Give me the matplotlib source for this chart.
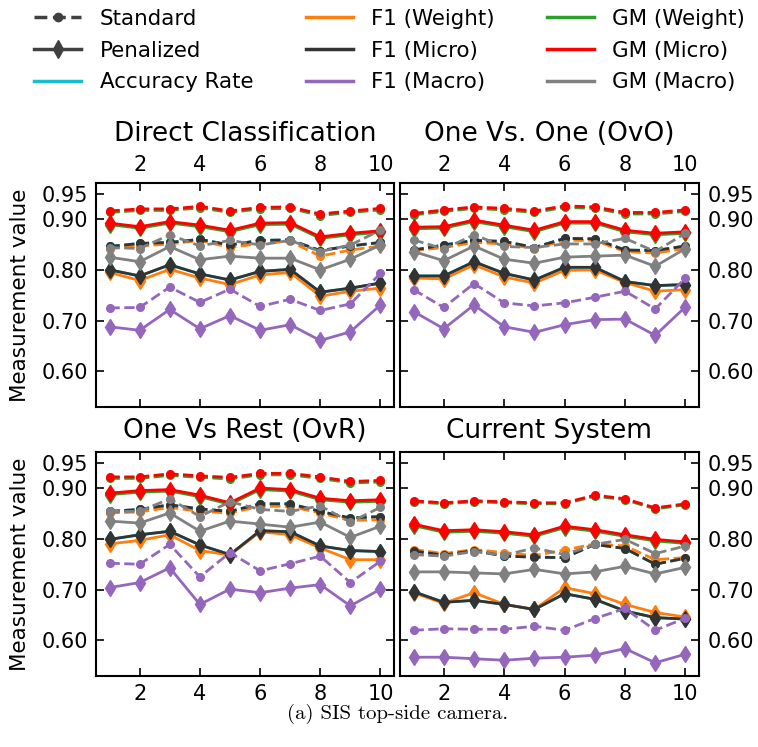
import matplotlib
matplotlib.use("Agg")
import matplotlib.pyplot as plt
from matplotlib.lines import Line2D

plt.rcParams['font.family'] = ['DejaVu Sans']

x_vals = [1, 2, 3, 4, 5, 6, 7, 8, 9, 10]
titles = ["Direct Classification", "One Vs. One (OvO)", "One Vs Rest (OvR)", "Current System"]
y_ticks = [0.60, 0.70, 0.80, 0.90, 0.95]
y_ticklabels = ["0.60", "0.70", "0.80", "0.90", "0.95"]
x_ticks = [2, 4, 6, 8, 10]
metric_names = ["Accuracy Rate", "F1 (Weight)", "F1 (Micro)", "F1 (Macro)",
                "GM (Weight)", "GM (Micro)", "GM (Macro)"]
metric_colors = ["#17becf", "#ff7f0e", "#333333", "#9467bd", "#2ca02c", "#ff0000", "#808080"]

# ---- Direct Classification ----
dc_f1w_std = [0.842, 0.847, 0.851, 0.858, 0.844, 0.852, 0.856, 0.827, 0.839, 0.847]
dc_f1w_pen = [0.795, 0.779, 0.801, 0.784, 0.771, 0.790, 0.795, 0.748, 0.758, 0.764]
dc_f1mi_std = [0.846, 0.852, 0.854, 0.860, 0.849, 0.858, 0.859, 0.838, 0.847, 0.854]
dc_f1mi_pen = [0.800, 0.788, 0.810, 0.792, 0.780, 0.797, 0.801, 0.756, 0.764, 0.774]
dc_acc_std = [0.846, 0.852, 0.854, 0.860, 0.849, 0.858, 0.859, 0.838, 0.847, 0.854]
dc_acc_pen = [0.800, 0.788, 0.810, 0.792, 0.780, 0.797, 0.801, 0.756, 0.764, 0.774]
dc_f1ma_std = [0.725, 0.726, 0.766, 0.736, 0.762, 0.728, 0.742, 0.720, 0.733, 0.793]
dc_f1ma_pen = [0.688, 0.681, 0.722, 0.684, 0.710, 0.681, 0.692, 0.661, 0.678, 0.731]
dc_gmw_std = [0.913, 0.917, 0.917, 0.922, 0.913, 0.920, 0.921, 0.907, 0.913, 0.918]
dc_gmw_pen = [0.889, 0.882, 0.892, 0.885, 0.875, 0.889, 0.890, 0.862, 0.869, 0.874]
dc_gmmi_std = [0.916, 0.920, 0.920, 0.925, 0.916, 0.923, 0.924, 0.910, 0.916, 0.921]
dc_gmmi_pen = [0.892, 0.885, 0.895, 0.888, 0.878, 0.892, 0.893, 0.865, 0.872, 0.877]
dc_gmma_std = [0.844, 0.842, 0.869, 0.847, 0.858, 0.849, 0.858, 0.836, 0.849, 0.878]
dc_gmma_pen = [0.825, 0.816, 0.846, 0.820, 0.827, 0.823, 0.823, 0.800, 0.821, 0.849]

# ---- One Vs. One ----
ovo_f1w_std = [0.838, 0.844, 0.854, 0.851, 0.842, 0.858, 0.858, 0.836, 0.833, 0.842]
ovo_f1w_pen = [0.784, 0.782, 0.810, 0.786, 0.774, 0.799, 0.800, 0.775, 0.758, 0.761]
ovo_f1mi_std = [0.839, 0.849, 0.858, 0.856, 0.844, 0.862, 0.861, 0.839, 0.838, 0.847]
ovo_f1mi_pen = [0.788, 0.788, 0.816, 0.793, 0.780, 0.805, 0.805, 0.777, 0.769, 0.771]
ovo_acc_std = [0.839, 0.849, 0.858, 0.856, 0.844, 0.862, 0.861, 0.839, 0.838, 0.847]
ovo_acc_pen = [0.788, 0.788, 0.816, 0.793, 0.780, 0.805, 0.805, 0.777, 0.769, 0.771]
ovo_f1ma_std = [0.761, 0.726, 0.773, 0.735, 0.729, 0.735, 0.746, 0.758, 0.723, 0.784]
ovo_f1ma_pen = [0.718, 0.684, 0.731, 0.688, 0.677, 0.692, 0.702, 0.703, 0.671, 0.727]
ovo_gmw_std = [0.908, 0.915, 0.921, 0.918, 0.913, 0.923, 0.921, 0.910, 0.910, 0.915]
ovo_gmw_pen = [0.881, 0.882, 0.895, 0.885, 0.875, 0.892, 0.892, 0.875, 0.869, 0.872]
ovo_gmmi_std = [0.911, 0.918, 0.924, 0.921, 0.916, 0.926, 0.924, 0.913, 0.913, 0.918]
ovo_gmmi_pen = [0.884, 0.885, 0.898, 0.888, 0.878, 0.895, 0.895, 0.878, 0.872, 0.875]
ovo_gmma_std = [0.859, 0.841, 0.869, 0.846, 0.844, 0.851, 0.851, 0.862, 0.836, 0.872]
ovo_gmma_pen = [0.836, 0.818, 0.847, 0.821, 0.813, 0.825, 0.827, 0.829, 0.807, 0.842]

# ---- One Vs Rest ----
ovr_f1w_std = [0.851, 0.853, 0.862, 0.854, 0.851, 0.864, 0.864, 0.851, 0.836, 0.838]
ovr_f1w_pen = [0.790, 0.797, 0.808, 0.777, 0.768, 0.814, 0.808, 0.782, 0.759, 0.759]
ovr_f1mi_std = [0.854, 0.858, 0.867, 0.859, 0.854, 0.869, 0.869, 0.854, 0.841, 0.844]
ovr_f1mi_pen = [0.799, 0.808, 0.815, 0.788, 0.769, 0.816, 0.814, 0.786, 0.777, 0.775]
ovr_acc_std = [0.854, 0.858, 0.867, 0.859, 0.854, 0.869, 0.869, 0.854, 0.841, 0.844]
ovr_acc_pen = [0.799, 0.808, 0.815, 0.788, 0.769, 0.816, 0.814, 0.786, 0.777, 0.775]
ovr_f1ma_std = [0.752, 0.750, 0.789, 0.725, 0.773, 0.737, 0.751, 0.766, 0.714, 0.756]
ovr_f1ma_pen = [0.704, 0.714, 0.743, 0.671, 0.701, 0.694, 0.703, 0.710, 0.668, 0.701]
ovr_gmw_std = [0.919, 0.919, 0.925, 0.921, 0.918, 0.926, 0.926, 0.919, 0.910, 0.912]
ovr_gmw_pen = [0.887, 0.892, 0.894, 0.883, 0.868, 0.897, 0.894, 0.877, 0.872, 0.874]
ovr_gmmi_std = [0.922, 0.922, 0.928, 0.924, 0.921, 0.929, 0.929, 0.922, 0.913, 0.915]
ovr_gmmi_pen = [0.890, 0.895, 0.897, 0.886, 0.871, 0.900, 0.897, 0.880, 0.875, 0.877]
ovr_gmma_std = [0.854, 0.854, 0.879, 0.844, 0.873, 0.858, 0.854, 0.865, 0.833, 0.862]
ovr_gmma_pen = [0.835, 0.831, 0.851, 0.815, 0.835, 0.829, 0.823, 0.833, 0.803, 0.825]

# ---- Current System ----
cs_f1w_std = [0.779, 0.771, 0.779, 0.773, 0.767, 0.778, 0.790, 0.786, 0.759, 0.763]
cs_f1w_pen = [0.694, 0.673, 0.694, 0.671, 0.661, 0.704, 0.692, 0.671, 0.655, 0.646]
cs_f1mi_std = [0.776, 0.768, 0.777, 0.766, 0.764, 0.763, 0.789, 0.781, 0.750, 0.762]
cs_f1mi_pen = [0.696, 0.675, 0.679, 0.671, 0.661, 0.692, 0.681, 0.658, 0.645, 0.642]
cs_acc_std = [0.776, 0.768, 0.777, 0.766, 0.764, 0.763, 0.789, 0.781, 0.750, 0.762]
cs_acc_pen = [0.696, 0.675, 0.679, 0.671, 0.661, 0.692, 0.681, 0.658, 0.645, 0.642]
cs_f1ma_std = [0.620, 0.623, 0.622, 0.622, 0.628, 0.620, 0.643, 0.663, 0.620, 0.644]
cs_f1ma_pen = [0.567, 0.567, 0.564, 0.561, 0.565, 0.567, 0.571, 0.584, 0.556, 0.573]
cs_gmw_std = [0.873, 0.869, 0.873, 0.871, 0.869, 0.869, 0.884, 0.877, 0.859, 0.867]
cs_gmw_pen = [0.826, 0.813, 0.815, 0.811, 0.805, 0.822, 0.815, 0.805, 0.796, 0.791]
cs_gmmi_std = [0.875, 0.871, 0.875, 0.873, 0.871, 0.871, 0.886, 0.879, 0.861, 0.869]
cs_gmmi_pen = [0.829, 0.816, 0.818, 0.814, 0.808, 0.825, 0.818, 0.808, 0.799, 0.794]
cs_gmma_std = [0.769, 0.766, 0.775, 0.768, 0.782, 0.769, 0.789, 0.799, 0.771, 0.786]
cs_gmma_pen = [0.735, 0.735, 0.733, 0.731, 0.740, 0.731, 0.735, 0.746, 0.731, 0.744]

panels = [
    [(dc_acc_std, dc_acc_pen), (dc_f1w_std, dc_f1w_pen), (dc_f1mi_std, dc_f1mi_pen),
     (dc_f1ma_std, dc_f1ma_pen), (dc_gmw_std, dc_gmw_pen), (dc_gmmi_std, dc_gmmi_pen),
     (dc_gmma_std, dc_gmma_pen)],
    [(ovo_acc_std, ovo_acc_pen), (ovo_f1w_std, ovo_f1w_pen), (ovo_f1mi_std, ovo_f1mi_pen),
     (ovo_f1ma_std, ovo_f1ma_pen), (ovo_gmw_std, ovo_gmw_pen), (ovo_gmmi_std, ovo_gmmi_pen),
     (ovo_gmma_std, ovo_gmma_pen)],
    [(ovr_acc_std, ovr_acc_pen), (ovr_f1w_std, ovr_f1w_pen), (ovr_f1mi_std, ovr_f1mi_pen),
     (ovr_f1ma_std, ovr_f1ma_pen), (ovr_gmw_std, ovr_gmw_pen), (ovr_gmmi_std, ovr_gmmi_pen),
     (ovr_gmma_std, ovr_gmma_pen)],
    [(cs_acc_std, cs_acc_pen), (cs_f1w_std, cs_f1w_pen), (cs_f1mi_std, cs_f1mi_pen),
     (cs_f1ma_std, cs_f1ma_pen), (cs_gmw_std, cs_gmw_pen), (cs_gmmi_std, cs_gmmi_pen),
     (cs_gmma_std, cs_gmma_pen)],
]

W, H = 758, 747
fig = plt.figure(figsize=(W / 100, H / 100), dpi=100)

boxes = [  # left, top, right, bottom in pixels
    (96, 183, 394, 407),
    (400, 183, 699, 407),
    (96, 452, 394, 676),
    (400, 452, 699, 676),
]

for i, (l, t, r, b) in enumerate(boxes):
    ax = fig.add_axes([l / W, 1 - b / H, (r - l) / W, (b - t) / H])
    for (std, pen), color in zip(panels[i], metric_colors):
        ax.plot(x_vals, std, linestyle='--', marker='o', color=color, lw=2, ms=5.5)
        ax.plot(x_vals, pen, linestyle='-', marker='d', color=color, lw=2, ms=8)
    ax.set_xlim(0.55, 10.45)
    ax.set_ylim(0.53, 0.971)
    ax.set_yticks(y_ticks)
    ax.set_yticklabels(y_ticklabels)
    ax.set_xticks(x_ticks)
    top_row = i < 2
    left_col = i % 2 == 0
    ax.tick_params(axis='both', direction='in', length=6, width=1.2, labelsize=15,
                   top=True, bottom=True, left=True, right=True, pad=6,
                   labeltop=top_row, labelbottom=not top_row,
                   labelleft=left_col, labelright=not left_col)
    for sp in ax.spines.values():
        sp.set_linewidth(1.5)
    ax.set_title(titles[i], fontsize=19, pad=10)
    if left_col:
        ax.set_ylabel("Measurement value", fontsize=15.5, labelpad=8)

handles = [
    Line2D([], [], color='#404040', lw=2.5, linestyle='--', marker='o', ms=6),
    Line2D([], [], color='#404040', lw=2.5, linestyle='-', marker='d', ms=9),
]
labels = ["Standard", "Penalized"]
for name, color in zip(metric_names, metric_colors):
    handles.append(Line2D([], [], color=color, lw=2.5))
    labels.append(name)

fig.legend(handles, labels, ncol=3, loc='upper left', bbox_to_anchor=(0.02, 1.014),
           frameon=False, fontsize=15.4, handlelength=2.2, handletextpad=0.85,
           columnspacing=2.45, labelspacing=0.55)

fig.text(398 / W, 1 - 714 / H, "(a) SIS top-side camera.", fontsize=15,
         family='cmr10', ha='center', va='center')

fig.savefig("out.png", dpi=100)
